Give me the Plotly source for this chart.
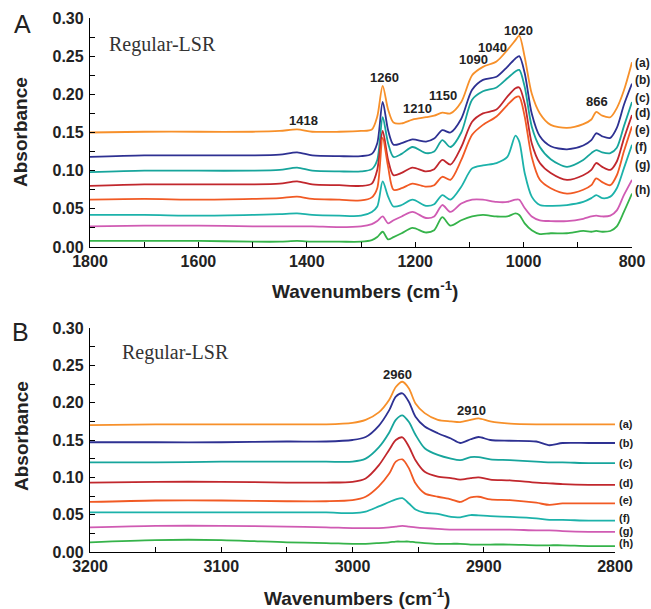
import plotly.graph_objects as go

# ---------------- data: panel A (1800-800 cm-1) ----------------
wn_top = [1800, 1700, 1600, 1500, 1450, 1418, 1390, 1340, 1300, 1280, 1270, 1260, 1250, 1240,
          1225, 1205, 1180, 1165, 1150, 1135, 1115, 1095, 1075, 1050, 1030, 1015, 1008, 998,
          985, 970, 950, 920, 890, 875, 866, 855, 840, 828, 815, 800]

top_a = [.150, .151, .151, .151, .152, .154, .151, .151, .152, .154, .171, .211, .180, .163,
         .162, .167, .170, .172, .176, .175, .190, .225, .236, .243, .258, .271, .277, .249,
         .201, .175, .160, .156, .161, .167, .177, .172, .170, .182, .205, .242]
top_b = [.118, .120, .120, .120, .121, .124, .120, .119, .119, .122, .136, .190, .153, .134,
         .136, .141, .138, .142, .153, .150, .168, .206, .219, .223, .236, .247, .250, .228,
         .175, .145, .132, .128, .133, .140, .149, .145, .143, .156, .186, .214]
top_c = [.098, .100, .100, .100, .101, .104, .100, .099, .099, .102, .114, .170, .136, .118,
         .122, .131, .123, .125, .140, .131, .150, .193, .204, .209, .221, .230, .232, .210,
         .158, .131, .115, .105, .114, .123, .127, .124, .123, .130, .158, .190]
top_d = [.080, .082, .082, .082, .083, .086, .082, .081, .080, .083, .101, .152, .114, .094,
         .097, .104, .099, .102, .114, .108, .131, .164, .175, .180, .197, .208, .209, .188,
         .136, .110, .097, .088, .094, .101, .110, .105, .101, .112, .142, .173]
top_e = [.062, .063, .062, .063, .064, .066, .063, .062, .061, .065, .077, .143, .105, .075,
         .077, .083, .079, .081, .092, .088, .114, .147, .160, .171, .186, .196, .197, .171,
         .118, .088, .077, .070, .075, .081, .090, .085, .081, .094, .125, .158]
top_f = [.042, .042, .041, .042, .043, .044, .042, .041, .041, .046, .053, .086, .066, .053,
         .055, .062, .054, .056, .068, .062, .079, .103, .107, .110, .118, .146, .138, .097,
         .066, .055, .054, .055, .059, .064, .068, .064, .066, .077, .103, .134]
top_g = [.027, .028, .028, .027, .027, .027, .027, .026, .027, .030, .034, .040, .031, .035,
         .040, .046, .038, .040, .055, .046, .057, .062, .062, .059, .059, .062, .062, .051,
         .040, .035, .034, .034, .037, .040, .041, .040, .041, .048, .068, .088]
top_h = [.008, .008, .008, .007, .007, .008, .007, .007, .007, .009, .013, .020, .010, .013,
         .018, .025, .019, .022, .039, .028, .035, .040, .042, .040, .040, .044, .042, .031,
         .022, .017, .018, .018, .021, .020, .021, .020, .021, .027, .046, .070]

# ---------------- data: panel B (3200-2800 cm-1) ----------------
wn_bot = [3200, 3150, 3100, 3050, 3020, 3000, 2990, 2980, 2972, 2967, 2962, 2957, 2952, 2945,
          2935, 2925, 2918, 2910, 2904, 2895, 2880, 2860, 2850, 2840, 2820, 2800]

bot_a = [.170, .171, .171, .171, .171, .173, .177, .187, .204, .221, .228, .219, .199, .186,
         .177, .175, .174, .177, .179, .175, .172, .171, .171, .171, .171, .171]
bot_b = [.147, .147, .147, .148, .148, .150, .154, .169, .190, .208, .2125, .201, .181, .168,
         .159, .152, .146, .151, .154, .150, .149, .148, .143, .146, .146, .146]
bot_c = [.120, .120, .121, .121, .121, .121, .125, .140, .160, .177, .183, .174, .157, .139,
         .130, .125, .123, .127, .127, .124, .123, .121, .120, .120, .119, .119]
bot_d = [.093, .094, .094, .093, .093, .094, .0985, .116, .137, .150, .1535, .141, .123, .1075,
         .101, .099, .097, .099, .100, .097, .096, .093, .092, .091, .090, .090]
bot_e = [.067, .069, .069, .068, .068, .0695, .074, .088, .105, .121, .124, .112, .092, .0785,
         .074, .0705, .067, .073, .074, .0705, .0695, .066, .063, .065, .065, .065]
bot_f = [.053, .053, .053, .053, .053, .052, .054, .061, .067, .0705, .072, .065, .057, .0527,
         .051, .047, .0465, .0495, .049, .048, .047, .045, .043, .043, .042, .042]
bot_g = [.033, .035, .035, .034, .033, .032, .032, .032, .033, .034, .035, .034, .033, .032,
         .031, .030, .030, .030, .030, .030, .030, .029, .029, .028, .027, .027]
bot_h = [.013, .016, .016, .013, .012, .011, .011, .012, .013, .014, .014, .014, .013, .012,
         .011, .011, .011, .010, .010, .010, .010, .009, .009, .009, .008, .008]

series_names = ["(a)", "(b)", "(c)", "(d)", "(e)", "(f)", "(g)", "(h)"]
colors = ["#F7902A", "#2E3192", "#17A59C", "#C1272D", "#F15A24", "#1CB2AA", "#D05BB3", "#35B34A"]

# label positions (absorbance) for the series tags at the right
top_tag_y = [0.241, 0.219, 0.195, 0.176, 0.153, 0.131, 0.107, 0.075]
bot_tag_y = [0.171, 0.146, 0.119, 0.093, 0.069, 0.045, 0.0285, 0.0117]

# peak annotations: (text, wavenumber, absorbance)
top_peaks = [("1418", 1407, 0.166), ("1260", 1256, 0.2215), ("1210", 1195, 0.181),
             ("1150", 1149, 0.198), ("1090", 1093, 0.246), ("1040", 1058, 0.261),
             ("1020", 1010, 0.284), ("866", 865, 0.190)]
bot_peaks = [("2960", 2965.5, 0.238), ("2910", 2909, 0.190)]

W, H = 651, 609
def px(x):
    return x / W
def py(y):
    return 1 - y / H

top_series = [top_a, top_b, top_c, top_d, top_e, top_f, top_g, top_h]
bot_series = [bot_a, bot_b, bot_c, bot_d, bot_e, bot_f, bot_g, bot_h]

fig = go.Figure()
for name, col, ys in zip(series_names, colors, top_series):
    fig.add_trace(go.Scatter(x=wn_top, y=ys, mode="lines", name=name, xaxis="x", yaxis="y",
                             line=dict(color=col, width=1.8, shape="spline", smoothing=0.8),
                             showlegend=False))
for name, col, ys in zip(series_names, colors, bot_series):
    fig.add_trace(go.Scatter(x=wn_bot, y=ys, mode="lines", name=name, xaxis="x2", yaxis="y2",
                             line=dict(color=col, width=1.8, shape="spline", smoothing=0.8),
                             showlegend=False))

tickfont = dict(family="Liberation Sans, Arial", size=16, color="#222", weight="bold")
common_x = dict(showline=True, linecolor="black", linewidth=1.3, ticks="inside", ticklen=5,
                tickwidth=1.2, tickcolor="black", showgrid=False, zeroline=False,
                tickfont=tickfont, automargin=False)
common_y = dict(showline=True, linecolor="black", linewidth=1.3, ticks="inside", ticklen=5,
                tickwidth=1.2, tickcolor="black", showgrid=False, zeroline=False,
                tickfont=tickfont, range=[0, 0.30], dtick=0.05, tick0=0, tickformat=".2f",
                automargin=False, ticklabelstandoff=2,
                minor=dict(dtick=0.025, ticks="inside", ticklen=5, tickcolor="black", tickwidth=1.2))

fig.update_layout(
    width=W, height=H, margin=dict(l=0, r=0, t=0, b=0, autoexpand=False),
    paper_bgcolor="white", plot_bgcolor="white",
    xaxis=dict(domain=[px(90), px(632)], range=[1800, 800], anchor="y", dtick=200, tick0=800,
               minor=dict(dtick=100, ticks="inside", ticklen=5, tickcolor="black", tickwidth=1.2),
               **common_x),
    yaxis=dict(domain=[py(247), py(18)], anchor="x", **common_y),
    xaxis2=dict(domain=[px(90), px(615)], range=[3200, 2800], anchor="y2", dtick=100, tick0=2800,
                minor=dict(dtick=50, ticks="inside", ticklen=5, tickcolor="black", tickwidth=1.2),
                **common_x),
    yaxis2=dict(domain=[py(552), py(328)], anchor="x2", **common_y),
)

ann = []
bold = dict(family="Liberation Sans, Arial", color="#222", weight="bold")
C = dict(xanchor="center", yanchor="middle", showarrow=False)
# peak labels
for t, x, y in top_peaks:
    ann.append(dict(text=t, x=x, y=y, xref="x", yref="y", font=dict(size=13, **bold), **C))
for t, x, y in bot_peaks:
    ann.append(dict(text=t, x=x, y=y, xref="x2", yref="y2", font=dict(size=13, **bold), **C))
# series tags
for t, y in zip(series_names, top_tag_y):
    ann.append(dict(text=t, x=px(633), y=y, xref="paper", yref="y", xanchor="left",
                    yanchor="middle", showarrow=False, font=dict(size=12, **bold)))
for t, y in zip(series_names, bot_tag_y):
    ann.append(dict(text=t, x=px(617), y=y, xref="paper", yref="y2", xanchor="left",
                    yanchor="middle", showarrow=False, font=dict(size=11, **bold)))
# axis titles
for yc in (132, 436):
    ann.append(dict(text="Absorbance", x=px(21), y=py(yc), xref="paper", yref="paper",
                    textangle=-90, font=dict(size=19, **bold), **C))
for xc, yc in ((365, 290), (357, 597)):
    ann.append(dict(text="Wavenumbers (cm<sup>-1</sup>)", x=px(xc), y=py(yc), xref="paper",
                    yref="paper", font=dict(size=19, **bold), **C))
# panel letters and sample name
ann.append(dict(text="A", x=px(22), y=py(24), xref="paper", yref="paper",
                font=dict(family="Liberation Sans, Arial", size=25, color="#222"), **C))
ann.append(dict(text="B", x=px(20), y=py(332), xref="paper", yref="paper",
                font=dict(family="Liberation Sans, Arial", size=25, color="#222"), **C))
ann.append(dict(text="Regular-LSR", x=px(162), y=py(44), xref="paper", yref="paper",
                font=dict(family="Liberation Serif, Times New Roman", size=20, color="#333"), **C))
ann.append(dict(text="Regular-LSR", x=px(175), y=py(352), xref="paper", yref="paper",
                font=dict(family="Liberation Serif, Times New Roman", size=20, color="#333"), **C))
fig.update_layout(annotations=ann)

fig.write_html("out.html")
